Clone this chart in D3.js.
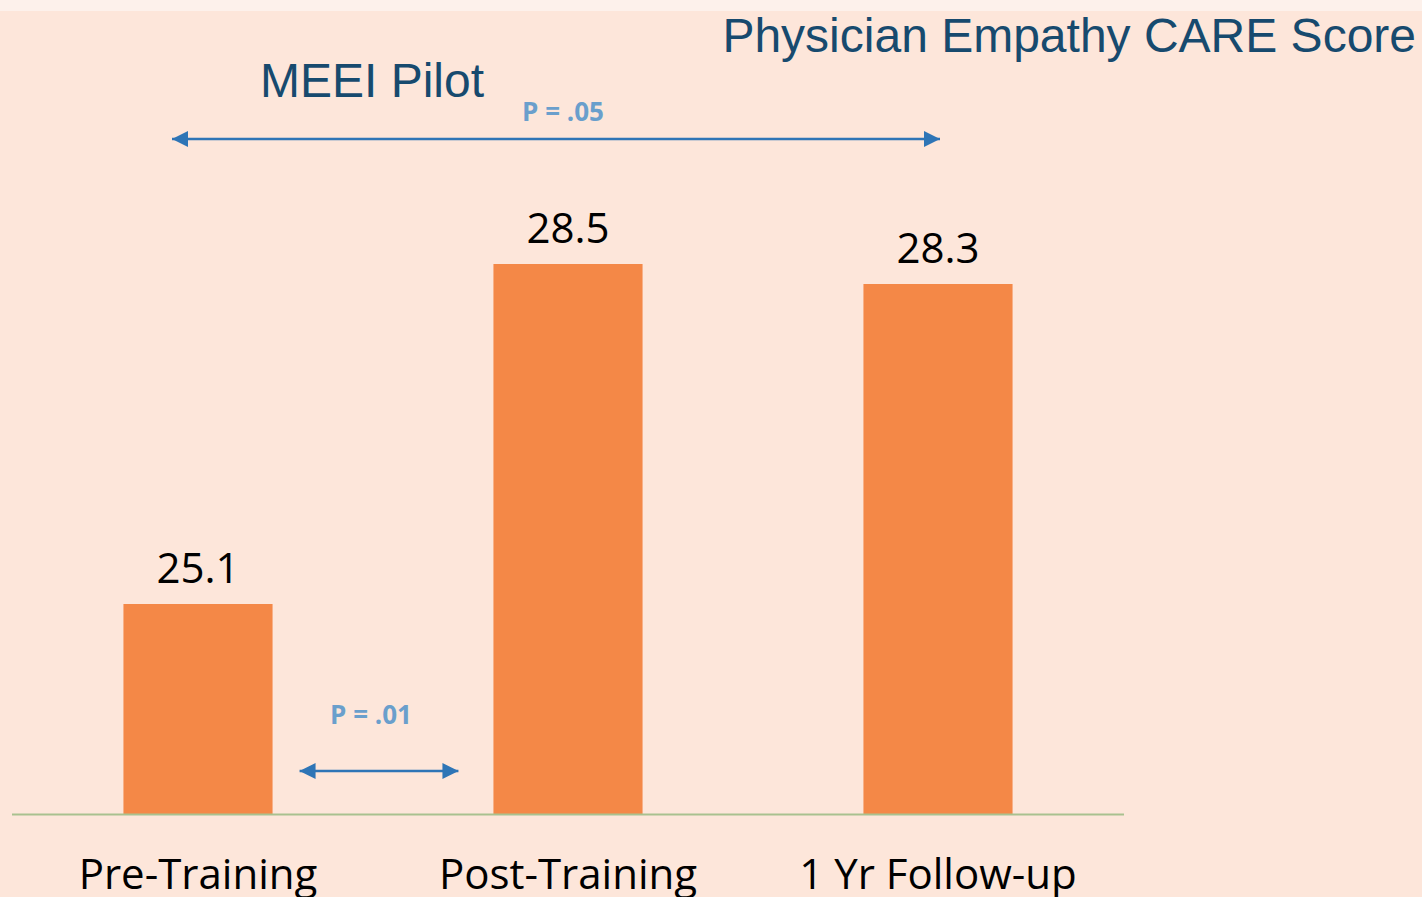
<!DOCTYPE html>
<html>
<head>
<meta charset="utf-8">
<script src="https://cdn.jsdelivr.net/npm/d3@7"></script>
<style>
  html, body { margin: 0; padding: 0; background: #FDE6DA; }
  svg { display: block; }
</style>
</head>
<body>
<div id="chart"></div>
<script>
var svgWidth = 1422;
var svgHeight = 897;

// chart data
var categories = ["Pre-Training", "Post-Training", "1 Yr Follow-up"];
var scores = [25.1, 28.5, 28.3];
var valueLabels = ["25.1", "28.5", "28.3"];
var pLabels = ["P = .01", "P = .05"];

var svg = d3.select("#chart")
  .append("svg")
  .attr("width", svgWidth)
  .attr("height", svgHeight);

// background + light strip at the top
svg.append("rect")
  .attr("width", svgWidth)
  .attr("height", svgHeight)
  .attr("fill", "#FDE6DA");
svg.append("rect")
  .attr("width", svgWidth)
  .attr("height", 11)
  .attr("fill", "#FDF1EB");

// scales
var xScale = d3.scaleBand()
  .domain(categories)
  .range([13, 1123])
  .paddingInner(0.597)
  .paddingOuter(0.2985);

var yScale = d3.scaleLinear()
  .domain([23, 31])
  .range([814, 14]);

// bars
svg.append("g")
  .selectAll("rect")
  .data(categories)
  .enter()
  .append("rect")
  .attr("x", d => xScale(d))
  .attr("y", (d, i) => yScale(scores[i]))
  .attr("width", xScale.bandwidth())
  .attr("height", (d, i) => yScale(23) - yScale(scores[i]))
  .attr("fill", "#F48847");

// baseline
svg.append("line")
  .attr("x1", 12)
  .attr("x2", 1124)
  .attr("y1", yScale(23) + 0.5)
  .attr("y2", yScale(23) + 0.5)
  .attr("stroke", "#A9C18F")
  .attr("stroke-width", 2);

// value labels
svg.append("g")
  .selectAll("text")
  .data(categories)
  .enter()
  .append("text")
  .attr("x", d => xScale(d) + xScale.bandwidth() / 2)
  .attr("y", (d, i) => yScale(scores[i]) - 21)
  .attr("text-anchor", "middle")
  .style("font-family", "'Open Sans', sans-serif")
  .style("font-size", "42px")
  .attr("fill", "#000")
  .text((d, i) => valueLabels[i]);

// category labels (cut by the bottom edge, as in the slide)
svg.append("g")
  .selectAll("text")
  .data(categories)
  .enter()
  .append("text")
  .attr("x", d => xScale(d) + xScale.bandwidth() / 2)
  .attr("y", 889)
  .attr("text-anchor", "middle")
  .style("font-family", "'Open Sans', sans-serif")
  .style("font-size", "42px")
  .attr("fill", "#000")
  .text(d => d);

// titles
svg.append("text")
  .attr("x", 1416)
  .attr("y", 52)
  .attr("text-anchor", "end")
  .style("font-family", "'Liberation Sans', Arial, sans-serif")
  .style("font-size", "48px")
  .attr("fill", "#174A6E")
  .text("Physician Empathy CARE Score");

svg.append("text")
  .attr("x", 260)
  .attr("y", 97)
  .style("font-family", "'Liberation Sans', Arial, sans-serif")
  .style("font-size", "48px")
  .attr("fill", "#174A6E")
  .text("MEEI Pilot");

// significance arrows
var defs = svg.append("defs");
["start", "end"].forEach(function(kind) {
  defs.append("marker")
    .attr("id", "arrow-" + kind)
    .attr("viewBox", "0 0 16 16")
    .attr("refX", kind === "end" ? 16 : 0)
    .attr("refY", 8)
    .attr("markerWidth", 16)
    .attr("markerHeight", 16)
    .attr("markerUnits", "userSpaceOnUse")
    .attr("orient", "auto")
    .append("path")
    .attr("d", kind === "end" ? "M0,0 L16,8 L0,16 Z" : "M16,0 L0,8 L16,16 Z")
    .attr("fill", "#2E75B6");
});

var mid = d => xScale(d) + xScale.bandwidth() / 2;
var arrows = [
  { x1: xScale(categories[0]) + xScale.bandwidth() + 27, x2: xScale(categories[1]) - 35, y: 771, ly: 724, label: pLabels[0] },
  { x1: mid(categories[0]) - 26, x2: mid(categories[2]) + 2, y: 139, ly: 121, label: pLabels[1] }
];

svg.append("g")
  .selectAll("line")
  .data(arrows)
  .enter()
  .append("line")
  .attr("x1", d => d.x1)
  .attr("x2", d => d.x2)
  .attr("y1", d => d.y)
  .attr("y2", d => d.y)
  .attr("stroke", "#2E75B6")
  .attr("stroke-width", 2.5)
  .attr("marker-start", "url(#arrow-start)")
  .attr("marker-end", "url(#arrow-end)");

svg.append("g")
  .selectAll("text")
  .data(arrows)
  .enter()
  .append("text")
  .attr("x", d => (d.x1 + d.x2) / 2 + (d.x2 - d.x1 > 400 ? 7 : -8))
  .attr("y", d => d.ly)
  .attr("text-anchor", "middle")
  .style("font-family", "'Open Sans', sans-serif")
  .style("font-weight", "bold")
  .style("font-size", "26px")
  .attr("fill", "#6A9FCC")
  .text(d => d.label);
</script>
</body>
</html>
